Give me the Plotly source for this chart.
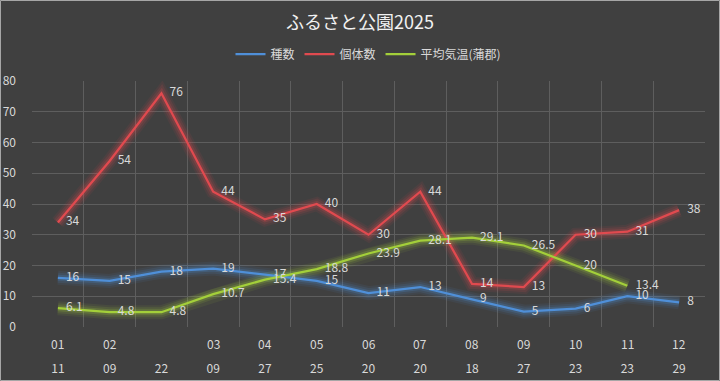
import plotly.graph_objects as go

months = ["01", "02", "", "03", "04", "05", "06", "07", "08", "09", "10", "11", "12"]
days = ["11", "09", "22", "09", "27", "25", "20", "20", "18", "27", "23", "23", "29"]
species = [16, 15, 18, 19, 17, 15, 11, 13, 9, 5, 6, 10, 8]
individuals = [34, 54, 76, 44, 35, 40, 30, 44, 14, 13, 30, 31, 38]
temperature = [6.1, 4.8, 4.8, 10.7, 15.4, 18.8, 23.9, 28.1, 29.1, 26.5, 20, 13.4, None]

x = list(range(len(days)))
BG = "#404040"
LABEL = "#d9d9d9"
FONT = "Noto Sans CJK JP, Noto Sans, sans-serif"
W, H = 720, 381
ML, MR, MT, MB = 32, 15, 81, 54
PW, PH = W - ML - MR, H - MT - MB

series = [
    ("種数", species, "#4f8fd8"),
    ("個体数", individuals, "#e04a4f"),
    ("平均気温(蒲郡)", temperature, "#a3cf3a"),
]

fig = go.Figure()
# glow layers
for name, vals, col in series:
    for w, op in [(14, 0.08), (10, 0.12), (6, 0.2)]:
        fig.add_trace(go.Scatter(x=x, y=vals, mode="lines", line=dict(color=col, width=w),
                                 opacity=op, showlegend=False, hoverinfo="skip"))
for name, vals, col in series:
    fig.add_trace(go.Scatter(
        x=x, y=vals, mode="lines+text", name=name,
        line=dict(color=col, width=2.25),
        text=[("" if v is None else "\u00a0\u00a0\u00a0" + f"{v:g}") for v in vals],
        textposition="middle right",
        textfont=dict(color=LABEL, size=12, family=FONT),
        cliponaxis=False,
    ))

for i, m in enumerate(months):
    fig.add_annotation(x=i, y=0, xref="x", yref="paper", text=m, showarrow=False,
                       yanchor="middle", yshift=-16,
                       font=dict(color=LABEL, size=12, family=FONT))

# outer chart border
fig.add_shape(type="rect", xref="paper", yref="paper",
              x0=(-ML + 0.5) / PW, x1=1 + (MR - 0.5) / PW,
              y0=(-MB + 0.5) / PH, y1=1 + (MT - 0.5) / PH,
              line=dict(color="#a6a6a6", width=1), fillcolor="rgba(0,0,0,0)", layer="below")

fig.update_layout(
    width=W, height=H,
    paper_bgcolor=BG, plot_bgcolor=BG,
    margin=dict(l=ML, r=MR, t=MT, b=MB, autoexpand=False),
    title=dict(text="ふるさと公園2025", x=0.5, xanchor="center", y=1 - 23 / H, yanchor="middle",
               font=dict(color="#f2f2f2", size=18, family=FONT)),
    legend=dict(orientation="h", x=0.5, xanchor="center", y=(PH + MT - 54) / PH, yanchor="middle",
                font=dict(color=LABEL, size=12, family=FONT), itemwidth=30,
                bgcolor="rgba(0,0,0,0)"),
    showlegend=True,
    xaxis=dict(range=[-0.5, 12.5], tickvals=x, ticktext=days, showgrid=False,
               zeroline=False, ticks="", ticklabelstandoff=33, automargin=False,
               tickfont=dict(color=LABEL, size=12, family=FONT),
               minor=dict(tickvals=[i - 0.5 for i in range(14)], showgrid=True,
                          gridcolor="#5e5e5e", gridwidth=1)),
    yaxis=dict(range=[0, 80], dtick=10, showgrid=True, gridcolor="#5e5e5e", gridwidth=1,
               zeroline=False, ticks="", ticklabelstandoff=15, automargin=False,
               tickfont=dict(color=LABEL, size=12, family=FONT)),
)

fig.write_html("out.html", config={"displayModeBar": False},
               post_script="document.body.style.margin='0';document.body.style.background='#404040';")
